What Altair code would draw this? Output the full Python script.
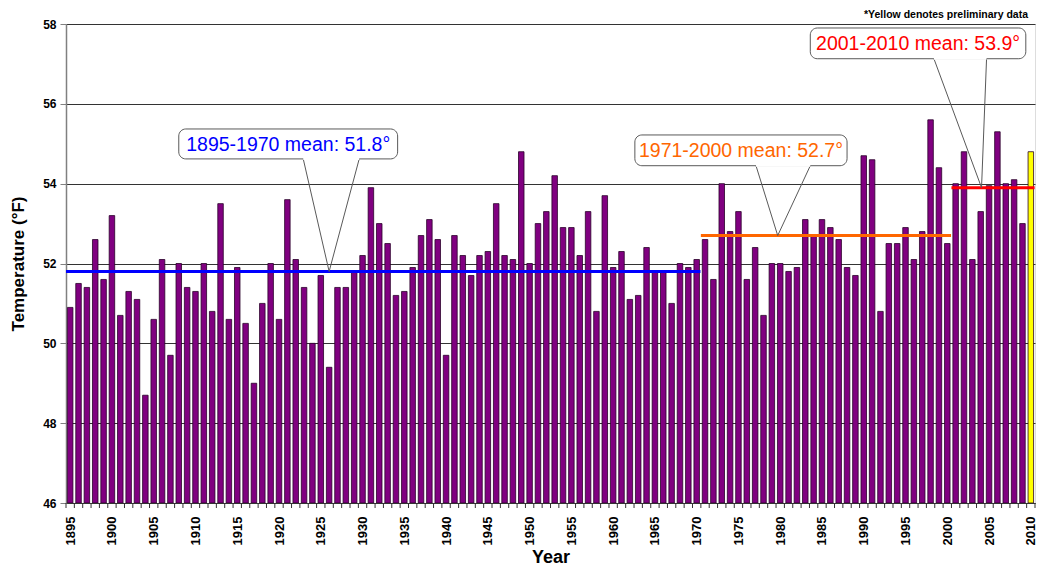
import altair as alt
import pandas as pd

# ---- data ----
years = list(range(1895, 2011))
temps = [
    50.9, 51.5, 51.4, 52.6, 51.6, 53.2, 50.7, 51.3, 51.1, 48.7,   # 1895-1904
    50.6, 52.1, 49.7, 52.0, 51.4, 51.3, 52.0, 50.8, 53.5, 50.6,   # 1905-1914
    51.9, 50.5, 49.0, 51.0, 52.0, 50.6, 53.6, 52.1, 51.4, 50.0,   # 1915-1924
    51.7, 49.4, 51.4, 51.4, 51.8, 52.2, 53.9, 53.0, 52.5, 51.2,   # 1925-1934
    51.3, 51.9, 52.7, 53.1, 52.6, 49.7, 52.7, 52.2, 51.7, 52.2,   # 1935-1944
    52.3, 53.5, 52.2, 52.1, 54.8, 52.0, 53.0, 53.3, 54.2, 52.9,   # 1945-1954
    52.9, 52.2, 53.3, 50.8, 53.7, 51.9, 52.3, 51.1, 51.2, 52.4,   # 1955-1964
    51.8, 51.8, 51.0, 52.0, 51.9, 52.1, 52.6, 51.6, 54.0, 52.8,   # 1965-1974
    53.3, 51.6, 52.4, 50.7, 52.0, 52.0, 51.8, 51.9, 53.1, 52.7,   # 1975-1984
    53.1, 52.9, 52.6, 51.9, 51.7, 54.7, 54.6, 50.8, 52.5, 52.5,   # 1985-1994
    52.9, 52.1, 52.8, 55.6, 54.4, 52.5, 54.0, 54.8, 52.1, 53.3,   # 1995-2004
    53.95, 55.3, 54.0, 54.1, 53.0, 54.8,                          # 2005-2010
]
preliminary_years = [2010]
label_years = list(range(1895, 2011, 5))
tick_bounds = [y - 0.5 for y in years] + [2010.5]

period_start = [1895, 1971, 2001]
period_end = [1970, 2000, 2010]
period_mean = [51.8, 52.7, 53.9]
period_label = ["1895-1970 mean: 51.8°", "1971-2000 mean: 52.7°", "2001-2010 mean: 53.9°"]
period_color = ["#0000FF", "#FF6600", "#FF0000"]

# callout boxes (data coordinates: year, °F)
box_x0 = [1908.0, 1962.6, 1983.6]
box_x1 = [1934.2, 1988.0, 2009.4]
box_top = [55.37, 55.22, 57.90]
box_bot = [54.62, 54.45, 57.13]
ptr_left = [1922.9, 1977.1, 1998.4]
ptr_right = [1929.6, 1983.6, 2004.7]
ptr_tip = [1926.0, 1979.7, 2004.1]

note_text = ["*Yellow denotes preliminary data"]
y_ticks = [46, 48, 50, 52, 54, 56, 58]

# ---- layout ----
W, H = 969, 479
X_DOMAIN = [1894.5, 2010.5]
FONT = "Arial, Liberation Sans, sans-serif"

bars = pd.DataFrame({"year": years, "temp": temps})
bars["status"] = ["Preliminary" if y in preliminary_years else "Final" for y in years]

periods = pd.DataFrame({
    "start": period_start, "end": period_end, "mean": period_mean,
    "label": period_label, "color": period_color,
    "x0": box_x0, "x1": box_x1, "top": box_top, "bot": box_bot,
    "pl": ptr_left, "pr": ptr_right, "tip": ptr_tip,
})

ptr_rows = []
for i in range(3):
    ptr_rows.append({"g": i, "o": 0, "x": ptr_left[i], "y": box_bot[i]})
    ptr_rows.append({"g": i, "o": 1, "x": ptr_tip[i], "y": period_mean[i]})
    ptr_rows.append({"g": i, "o": 2, "x": ptr_right[i], "y": box_bot[i]})
pointers = pd.DataFrame(ptr_rows)

ticks_df = pd.DataFrame({"b": tick_bounds})
note_df = pd.DataFrame({"t": note_text})

xscale = alt.Scale(domain=X_DOMAIN, nice=False, zero=False)
yscale = alt.Scale(domain=[46, 58], nice=False, zero=False)

x_axis = alt.Axis(
    title="Year", values=label_years, format="d",
    labelAngle=-90, labelOverlap=False, labelFlush=False,
    ticks=False, domainColor="#333333",
    labelFont=FONT, labelFontSize=13, labelFontWeight="bold", labelColor="black",
    labelPadding=13,
    titleFont=FONT, titleFontSize=18, titleFontWeight="bold", titleColor="black",
    titlePadding=4, grid=False,
)
y_axis = alt.Axis(
    title="Temperature (°F)", values=y_ticks, format="d",
    grid=True, gridColor="#333333", gridWidth=1,
    tickSize=6, tickColor="#808080", domainColor="#808080", domainWidth=1.5,
    labelFont=FONT, labelFontSize=12, labelFontWeight="bold", labelColor="black",
    labelPadding=4,
    titleFont=FONT, titleFontSize=17, titleFontWeight="bold", titleColor="black",
    titlePadding=15,
)

bar_layer = alt.Chart(bars).transform_calculate(
    x0="datum.year - 0.33", x1="datum.year + 0.33"
).mark_bar(stroke="#2a002a", strokeWidth=0.8, clip=True).encode(
    x=alt.X("x0:Q", scale=xscale, axis=x_axis),
    x2="x1:Q",
    y=alt.Y("temp:Q", scale=yscale, axis=y_axis),
    y2=alt.datum(46),
    color=alt.Color("status:N", scale=alt.Scale(domain=["Final", "Preliminary"],
                                               range=["#800080", "#FFFF00"]), legend=None),
)

tick_layer = alt.Chart(ticks_df).mark_rule(color="#333333", strokeWidth=1).encode(
    x=alt.X("b:Q", scale=xscale),
    y=alt.value(H), y2=alt.value(H + 5),
)

mean_layer = alt.Chart(periods).transform_calculate(
    s="datum.start - 0.5", e="datum.end + 0.45"
).mark_rule(strokeWidth=3).encode(
    x=alt.X("s:Q", scale=xscale), x2="e:Q",
    y=alt.Y("mean:Q", scale=yscale),
    color=alt.Color("color:N", scale=None),
)

box_layer = alt.Chart(periods).mark_rect(
    fill="white", stroke="#595959", strokeWidth=1, cornerRadius=7
).encode(
    x=alt.X("x0:Q", scale=xscale), x2="x1:Q",
    y=alt.Y("top:Q", scale=yscale), y2="bot:Q",
)

ptr_layer = alt.Chart(pointers).mark_line(color="#595959", strokeWidth=1).encode(
    x=alt.X("x:Q", scale=xscale),
    y=alt.Y("y:Q", scale=yscale),
    detail="g:N", order="o:Q",
)

cover_layer = alt.Chart(periods).mark_rule(color="white", strokeWidth=2).encode(
    x=alt.X("pl:Q", scale=xscale), x2="pr:Q",
    y=alt.Y("bot:Q", scale=yscale),
)

text_layer = alt.Chart(periods).transform_calculate(
    cx="(datum.x0 + datum.x1) / 2", cy="(datum.top + datum.bot) / 2"
).mark_text(font=FONT, fontSize=19.5, baseline="middle", align="center", dy=1).encode(
    x=alt.X("cx:Q", scale=xscale),
    y=alt.Y("cy:Q", scale=yscale),
    text="label:N",
    color=alt.Color("color:N", scale=None),
)

note_layer = alt.Chart(note_df).mark_text(
    font="Liberation Sans", fontSize=10.5, fontWeight="bold", color="black",
    align="right", baseline="middle"
).encode(
    x=alt.value(W - 7), y=alt.value(-9), text="t:N",
)

chart = alt.layer(
    bar_layer, tick_layer, mean_layer, ptr_layer, box_layer, cover_layer,
    text_layer, note_layer
).properties(
    width=W, height=H,
    autosize=alt.AutoSizeParams(type="none"),
    padding={"left": 58, "top": 16, "right": 6, "bottom": 63},
).configure_view(stroke=None).configure(background="white")

chart.save("out.html", embed_options={"renderer": "svg", "actions": False})
